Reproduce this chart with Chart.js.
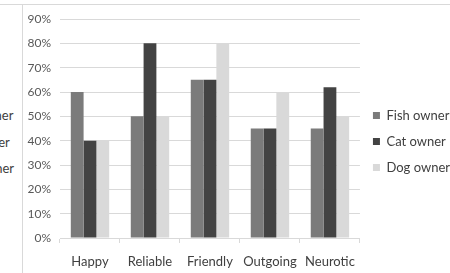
<!DOCTYPE html>
<html>
<head>
<meta charset="utf-8">
<script src="https://cdn.jsdelivr.net/npm/chart.js@4"></script>
<style>
  html, body { margin:0; padding:0; background:#fff; overflow:hidden; width:450px; height:273px; }
  #wrap { position:absolute; left:0; top:0; width:460px; height:273px; }
  .hline { position:absolute; left:0; top:4px; width:450px; height:1px; background:#d9d9d9; }
  .vline { position:absolute; left:22px; top:4px; width:1px; height:269px; background:#d9d9d9; }
  #frag { position:absolute; left:14px; top:102px; transform:translateX(-100%); font-family:Lato, "Liberation Sans", sans-serif; font-size:13px; color:#404040; white-space:nowrap; line-height:26.5px; }
  #frag div { text-align:left; }
</style>
</head>
<body>
<div class="hline"></div>
<div class="vline"></div>
<div id="frag"><div>Fish owner</div><div>Cat owner</div><div>Dog owner</div></div>
<div id="wrap"><canvas id="c" width="460" height="273"></canvas></div>
<script>
const categories = ["Happy", "Reliable", "Friendly", "Outgoing", "Neurotic"];
const seriesNames = ["Fish owner", "Cat owner", "Dog owner"];
const fishOwner = [60, 50, 65, 45, 45];
const catOwner = [40, 80, 65, 45, 62];
const dogOwner = [40, 50, 80, 60, 50];
const yTicks = [0, 10, 20, 30, 40, 50, 60, 70, 80, 90];

const colors = ["#7b7b7b", "#434343", "#d9d9d9"];
const FONT = "Lato, 'Liberation Sans', sans-serif";

const legendShift = {
  id: "legendShift",
  afterLayout(chart) {
    const lg = chart.legend;
    if (lg) { lg.top -= 4.5; lg.bottom -= 4.5; }
  }
};

new Chart(document.getElementById("c"), {
  type: "bar",
  data: {
    labels: categories,
    datasets: [
      { label: seriesNames[0], data: fishOwner, backgroundColor: colors[0] },
      { label: seriesNames[1], data: catOwner, backgroundColor: colors[1] },
      { label: seriesNames[2], data: dogOwner, backgroundColor: colors[2] }
    ]
  },
  plugins: [legendShift],
  options: {
    responsive: false,
    animation: false,
    devicePixelRatio: 1,
    layout: { padding: { top: 19, left: 0, right: 0, bottom: 0 } },
    datasets: { bar: { categoryPercentage: 0.64, barPercentage: 1.0 } },
    plugins: {
      tooltip: { enabled: false },
      legend: {
        position: "right",
        align: "center",
        labels: {
          boxWidth: 7, boxHeight: 7, padding: 13,
          color: "#404040",
          font: { family: FONT, size: 13 }
        }
      }
    },
    scales: {
      x: {
        grid: { display: true, drawOnChartArea: false, drawTicks: true, tickLength: 5, color: "#d9d9d9", offset: true },
        border: { display: true, color: "#d9d9d9" },
        ticks: { color: "#404040", font: { family: FONT, size: 13 }, padding: 11 },
        afterFit: s => { s.height = 35; }
      },
      y: {
        min: 0, max: 90,
        afterBuildTicks: s => { s.ticks = yTicks.map(v => ({ value: v })); },
        grid: { color: "#d9d9d9", drawTicks: false },
        border: { display: false },
        ticks: { color: "#595959", font: { family: FONT, size: 12 }, padding: 9, callback: v => v + "%" },
        afterFit: s => { s.width = 60; }
      }
    }
  }
});
</script>
</body>
</html>
